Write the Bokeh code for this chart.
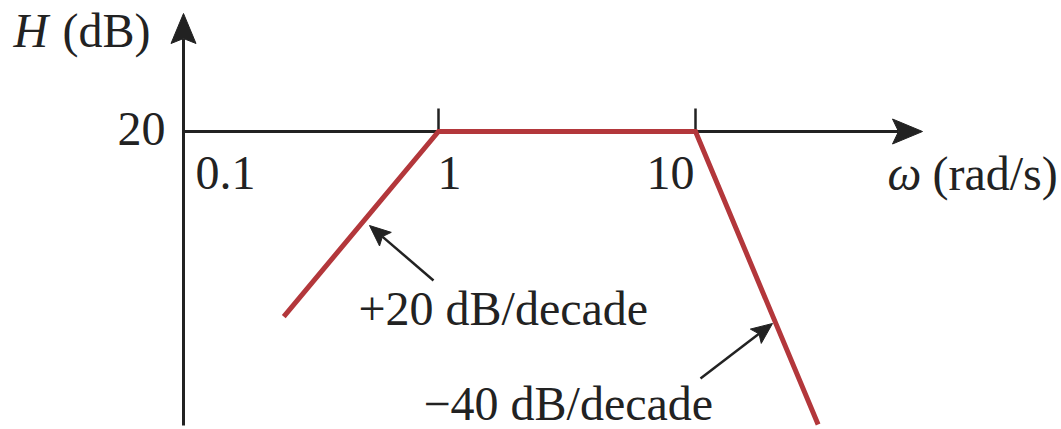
import math

from bokeh.plotting import figure
from bokeh.models import Label, Range1d
from bokeh.core.properties import value
from bokeh.embed import file_html
from bokeh.resources import INLINE

# Asymptotic Bode magnitude: corner points of the straight-line plot
omega = [0.25, 1, 10, 30]          # rad/s
h_db = [8.0, 20.0, 20.0, 1.0]       # dB

# frequency ticks and the single magnitude level that is labelled
tick_omega = [0.1, 1, 10]
tick_text = ["0.1", "1", "10"]
level_db = [20]
level_text = ["20"]

slope_notes = ["+20 dB/decade", "\u221240 dB/decade"]

# ---- page geometry -------------------------------------------------------
W, H = 1061, 429
PX_PER_DECADE = 257.0     # horizontal pixels for one decade of omega
PX_PER_DB = 15.42         # vertical pixels for one dB
X_UNIT = 438.0            # pixel column of omega = 1
Y_LEVEL = 131.0           # pixel row (from top) of 20 dB
TEXT_RAISE = 17           # baseline correction for rendered text

x_lo = 10 ** (-X_UNIT / PX_PER_DECADE)
x_hi = 10 ** ((W - X_UNIT) / PX_PER_DECADE)
y_lo = level_db[0] - (H - Y_LEVEL) / PX_PER_DB
y_hi = level_db[0] + Y_LEVEL / PX_PER_DB

FONT_NAME = "Liberation Serif"
FONT = value(FONT_NAME)
INK = "#222222"
RED = "#b3373b"
FS = "48px"


def to_data(px, py):
    """Pixel position (from top-left) to (omega, dB)."""
    return (10 ** ((px - X_UNIT) / PX_PER_DECADE),
            level_db[0] - (py - Y_LEVEL) / PX_PER_DB)


p = figure(width=W, height=H, x_axis_type="log",
           x_axis_location=None, y_axis_location=None,
           x_range=Range1d(x_lo, x_hi), y_range=Range1d(y_lo, y_hi),
           output_backend="svg", toolbar_location=None,
           min_border=0, outline_line_color=None,
           background_fill_color="white", border_fill_color="white")
p.grid.visible = False


def arrow(tail, tip, length, half_w, notch, width):
    """Shaft plus filled, slightly notched head, given in pixels."""
    dx, dy = tip[0] - tail[0], tip[1] - tail[1]
    n = math.hypot(dx, dy)
    ux, uy = dx / n, dy / n
    vx, vy = -uy, ux
    back = (tip[0] - length * ux, tip[1] - length * uy)
    inner = (tip[0] - (length - notch) * ux, tip[1] - (length - notch) * uy)
    pts = [tip,
           (back[0] + half_w * vx, back[1] + half_w * vy),
           inner,
           (back[0] - half_w * vx, back[1] - half_w * vy)]
    a = to_data(*tail)
    b = to_data(*inner)
    p.line([a[0], b[0]], [a[1], b[1]], line_color=INK, line_width=width)
    d = [to_data(*q) for q in pts]
    p.patch([q[0] for q in d], [q[1] for q in d],
            fill_color=INK, line_color=INK, line_width=1)


# axes: vertical through omega = 0.1, horizontal along the 20 dB row
arrow((183, 425), (183, 13), 30, 12.5, 5, 3)
arrow((183, Y_LEVEL), (922, Y_LEVEL), 30, 12.5, 6, 3)

# upward tick marks at 1 and 10 rad/s
tick_len_db = 23 / PX_PER_DB
p.segment(x0=tick_omega[1:], y0=[level_db[0]] * 2,
          x1=tick_omega[1:], y1=[level_db[0] + tick_len_db] * 2,
          line_color=INK, line_width=2.5)

# the magnitude response
p.line(omega, h_db, line_color=RED, line_width=5, line_join="miter")

# tick labels
p.text(x=tick_omega, y=[level_db[0]] * 3, text=tick_text,
       x_offset=[44, 11, -25], y_offset=[58 - TEXT_RAISE] * 3,
       text_align="center", text_baseline="alphabetic",
       text_font=FONT, text_font_size=FS, text_color=INK)
p.text(x=[tick_omega[0]], y=level_db, text=level_text,
       x_offset=[-16], y_offset=[14 - TEXT_RAISE],
       text_align="right", text_baseline="alphabetic",
       text_font=FONT, text_font_size=FS, text_color=INK)


def note(txt, x, y, style="normal"):
    p.add_layout(Label(x=x, y=H - (y - TEXT_RAISE), x_units="screen", y_units="screen",
                       text=txt, text_font=FONT_NAME, text_font_size=FS,
                       text_font_style=style, text_color=INK,
                       text_baseline="alphabetic", text_align="left"))


# axis titles
note("H", 13, 47, "italic")
note("(dB)", 62, 47)
note("\u03c9", 887, 190, "italic")
note("(rad/s)", 932, 190)

# slope notes with pointers
note(slope_notes[0], 358, 325)
note(slope_notes[1], 423, 420)

arrow((433, 280), (369, 225), 21, 9, 4, 2.5)
arrow((700, 378), (772, 323), 21, 9, 4, 2.5)

open("out.html", "w").write(file_html(p, INLINE))
